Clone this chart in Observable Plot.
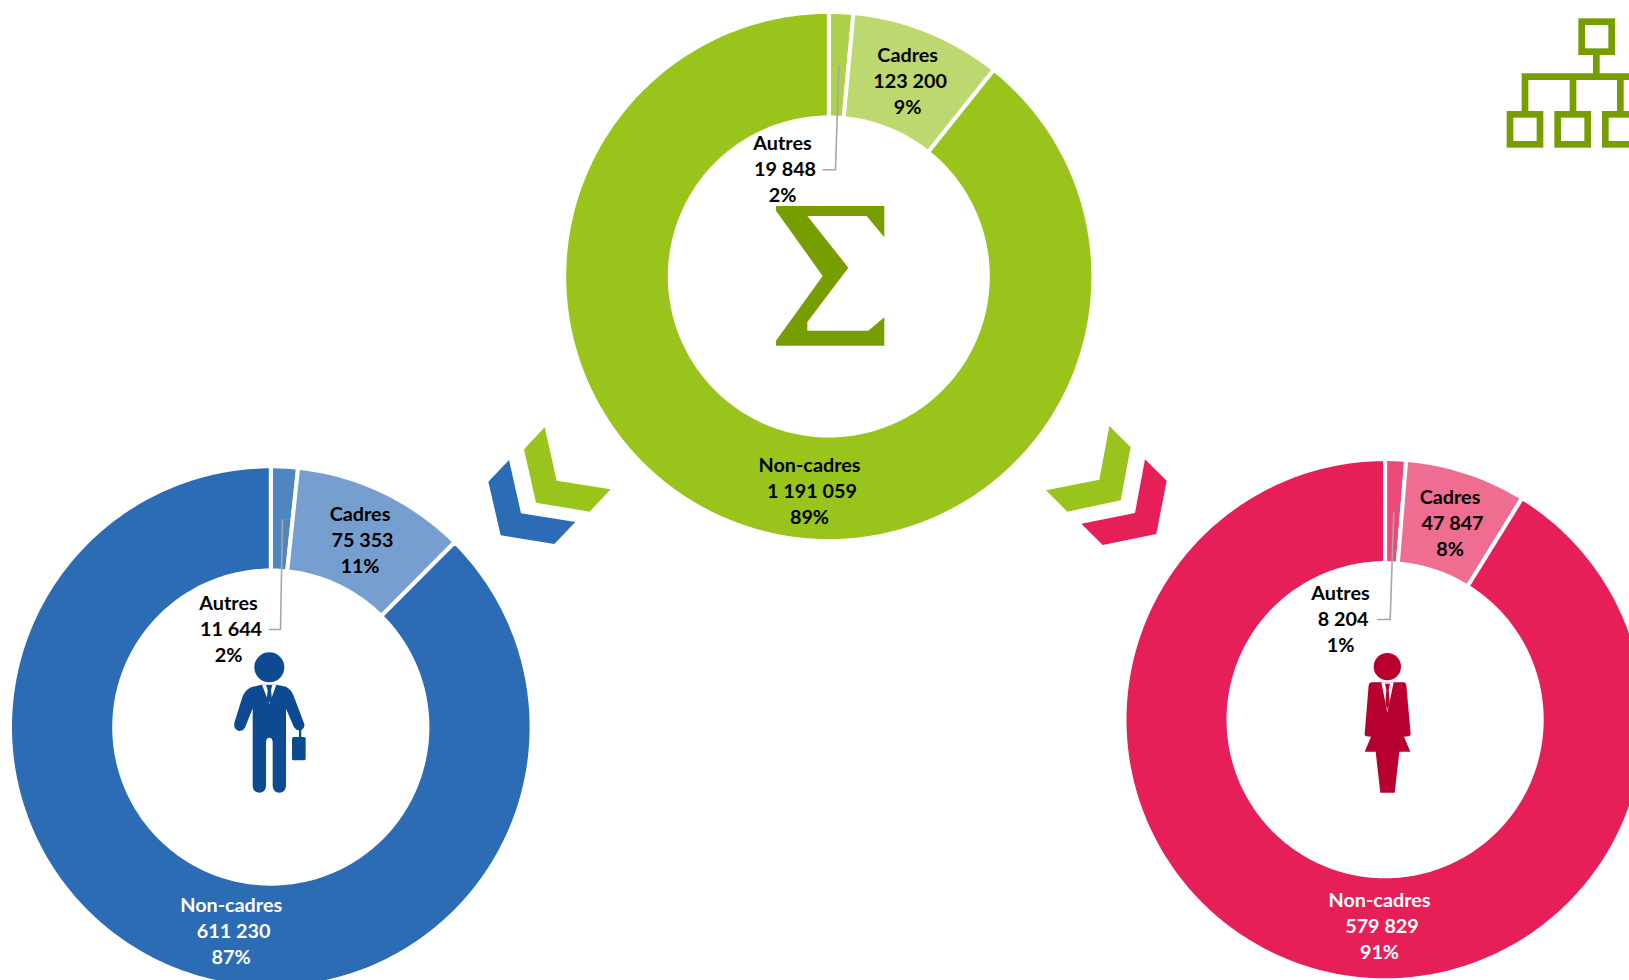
<!DOCTYPE html>
<html>
<head>
<meta charset="utf-8">
<style>
html,body{margin:0;padding:0;background:#fff;overflow:hidden}
svg{display:block}
</style>
<script src="https://cdn.jsdelivr.net/npm/d3@7"></script>
<script src="https://cdn.jsdelivr.net/npm/@observablehq/plot@0.6"></script>
</head>
<body>
<div id="chart"></div>
<script>
// --- data ---
const categories = ["Autres", "Cadres", "Non-cadres"];
const totalValues = [19848, 123200, 1191059];
const totalShares = ["2%", "9%", "89%"];
const menValues = [11644, 75353, 611230];
const menShares = ["2%", "11%", "87%"];
const womenValues = [8204, 47847, 579829];
const womenShares = ["1%", "8%", "91%"];

// --- layout and styles, separate from the values ---
const W = 1629, H = 980, GAP = 4;
const donuts = [
  {values: totalValues, shares: totalShares, cx: 828.3, cy: 276, r0: 161, r1: 262.6,
   colors: ["#ADD14A", "#BDD86E", "#98C41C"],
   labels: [[782, 143.5], [907.2, 55.3], [809, 464.7]],
   ink: ["#000", "#000", "#000"],
   leader: [[838.3, 65.3], [835, 169.3], [822.7, 169.3]]},
  {values: menValues, shares: menShares, cx: 270.3, cy: 726.6, r0: 158.6, r1: 258.8,
   colors: ["#4F86C2", "#769FD0", "#2B6CB4"],
   labels: [[228, 603.5], [359.5, 514.3], [230.7, 904.8]],
   ink: ["#000", "#000", "#fff"],
   leader: [[282, 519.3], [280, 629], [268.7, 629]]},
  {values: womenValues, shares: womenShares, cx: 1384.6, cy: 719.2, r0: 158.6, r1: 258.6,
   colors: ["#EC4B7A", "#F06D92", "#E71F58"],
   labels: [[1340, 593.3], [1449.5, 497.5], [1379, 899.8]],
   ink: ["#000", "#000", "#fff"],
   leader: [[1393.3, 511.7], [1389.7, 619], [1377.3, 619]]}
];
const LINE = 26, SECOND_LINE_SHIFT = 2.5;
const fmt = v => d3.format(",")(v).replace(/,/g, "\u00a0");

// Outline of every slice, derived from the values through d3.pie
const slices = [];
const textRows = [];
const leaders = [];
donuts.forEach((d, di) => {
  const arcs = d3.pie().sort(null)(d.values);
  arcs.forEach((a, i) => {
    const id = di + "-" + i;
    const ro = d.r1 + GAP / 2, ri = d.r0 - GAP / 2;
    const n = Math.ceil((a.endAngle - a.startAngle) * 180 / Math.PI) + 1;
    const angles = d3.range(n + 1).map(k => a.startAngle + (a.endAngle - a.startAngle) * k / n);
    const pt = (t, r) => ({id, color: d.colors[i], x: d.cx + r * Math.sin(t), y: d.cy - r * Math.cos(t)});
    const ring = [...angles.map(t => pt(t, ro)), ...angles.slice().reverse().map(t => pt(t, ri))];
    ring.push(ring[0]);
    slices.push(...ring);
    const [lx, ly] = d.labels[i];
    [categories[i], fmt(d.values[i]), d.shares[i]].forEach((s, k) => {
      textRows.push({x: lx + (k === 1 ? SECOND_LINE_SHIFT : 0), y: ly + k * LINE, s, ink: d.ink[i]});
    });
  });
  d.leader.forEach(([x, y]) => leaders.push({id: di, x, y}));
});

// Decorative pictograms (each in a 3x local grid)
function glyph(ox, oy, markup) {
  return (index, {x, y}) => {
    const g = d3.create("svg:g").attr("transform", `translate(${x(ox)},${y(oy)}) scale(${1 / 3})`);
    g.html(markup);
    return g.node();
  };
}
const poly = (pts, fill) => `<polygon points="${pts}" fill="${fill}"/>`;

const GREEN = "#98C41C", BLUE = "#2B6CB4", PINK = "#E71F58";
const ICON_GREEN = "#769E00", ICON_BLUE = "#0D4A91", ICON_PINK = "#B8002E";

const sigma = glyph(720, 0, poly("168,618 493,618 493,712 440,648 262,648 385,803 262,966 262,992 445,992 493,952 493,1037 168,1037 168,1022 308,828 168,632", ICON_GREEN));

const tree = glyph(1480, 0, `
  <g fill="none" stroke="${ICON_GREEN}" stroke-width="20">
    <rect x="305" y="65" width="90" height="90"/>
    <rect x="90" y="343" width="90" height="90"/>
    <rect x="233" y="343" width="90" height="90"/>
    <rect x="376" y="343" width="90" height="90"/>
    <path d="M349 160V230M135 340V230H470M279 230V340M421 230V340"/>
  </g>`);

const chevrons = [
  glyph(470, 410, poly("224,52 260,212 422,238 359,305 198,278 162,118", GREEN)),
  glyph(470, 410, poly("117,150 153,310 316,336 253,402 92,376 55,215", BLUE)),
  glyph(1030, 410, poly("238,48 302,112 272,271 112,305 48,241 208,209", GREEN)),
  glyph(1030, 410, poly("345,148 410,212 379,372 218,405 154,341 315,309", PINK))
];

const man = glyph(170, 470, `
  <circle cx="298" cy="592" r="45" fill="${ICON_BLUE}"/>
  <path fill="${ICON_BLUE}" d="M275 644 L243 652 Q225 660 217 682 L194 755 Q188 776 205 782 Q220 786 227 768 L248 715 L248 948 Q250 968 268 968 Q286 968 288 948 L288 816 Q289 803 298 803 Q307 803 308 816 L308 948 Q310 968 328 968 Q346 968 348 948 L348 716 L372 772 Q380 784 394 780 Q407 772 402 760 L372 680 Q364 658 348 650 L320 644 Z"/>
  <polygon points="276,644 319,644 298,702" fill="#fff"/>
  <polygon points="288,645 307,645 303,660 306,690 298,698 290,690 293,660" fill="${ICON_BLUE}"/>
  <rect x="387" y="775" width="7" height="32" fill="${ICON_BLUE}"/>
  <rect x="366" y="801" width="41" height="70" rx="5" fill="${ICON_BLUE}"/>`);

const woman = glyph(1280, 460, `
  <circle cx="322" cy="620" r="41" fill="${ICON_PINK}"/>
  <path fill="${ICON_PINK}" d="M274 667 H372 Q378 668 379 676 L392 822 Q392 828 386 829 L372 830 L391 875 H358 L344 998 H301 L287 875 H254 L273 830 L259 829 Q253 828 254 822 L266 676 Q267 668 274 667 Z"/>
  <polygon points="304,667 341,667 322,758" fill="#fff"/>
  <polygon points="315,671 330,671 326,690 329,730 322,750 316,730 319,690" fill="${ICON_PINK}"/>`);

const plot = Plot.plot({
  width: W, height: H,
  margin: 0,
  x: {domain: [0, W], range: [0, W], axis: null},
  y: {domain: [0, H], range: [0, H], axis: null},
  color: {type: "identity"},
  style: {background: "#fff"},
  marks: [
    Plot.line(slices, {
      x: "x", y: "y", z: "id", fill: "color",
      stroke: "#fff", strokeWidth: GAP, strokeLinejoin: "miter", strokeMiterlimit: 4
    }),
    Plot.line(leaders, {x: "x", y: "y", z: "id", stroke: "#A6A6A6", strokeWidth: 1.6, strokeLinejoin: "miter"}),
    sigma, tree, ...chevrons, man, woman,
    Plot.text(textRows, {
      x: "x", y: "y", text: "s", fill: "ink",
      fontFamily: "Lato, Carlito, sans-serif", fontWeight: 700, fontSize: 19.8,
      textAnchor: "middle", lineAnchor: "middle"
    })
  ]
});
document.getElementById("chart").appendChild(plot);
</script>
</body>
</html>
